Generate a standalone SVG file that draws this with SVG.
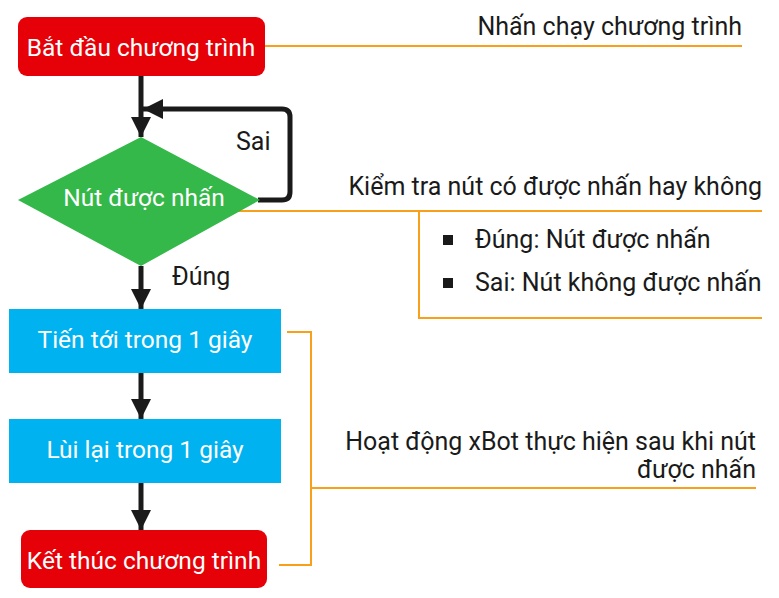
<svg xmlns="http://www.w3.org/2000/svg" width="779" height="598" viewBox="0 0 779 598">
<style>
text{font-family:Roboto,"Noto Sans",sans-serif;font-size:25px}
.w{fill:#fff;text-anchor:middle;font-size:24.5px}
.k{fill:#1a1a1a}
.r{fill:#1a1a1a;text-anchor:end}
.c{stroke:#1a1a1a;stroke-width:5;fill:none}
.o{stroke:#f9a01b;stroke-width:2;fill:none}
</style>
<defs>
<marker id="ah" viewBox="0 0 10 10" refX="10" refY="5" markerWidth="4" markerHeight="4" orient="auto" markerUnits="strokeWidth">
<path d="M0,0 L10,5 L0,10 Z" fill="#1a1a1a"/>
</marker>
</defs>
<g id="connectors">
<path class="c" d="M141,76 V137" marker-end="url(#ah)"/>
<path class="c" d="M258,200 H282 Q290,200 290,192 V117 Q290,109 282,109 H143" marker-end="url(#ah)"/>
<path class="c" d="M141,266 V309" marker-end="url(#ah)"/>
<path class="c" d="M141,373 V419" marker-end="url(#ah)"/>
<path class="c" d="M141,483 V530" marker-end="url(#ah)"/>
<text class="k" x="236" y="150">Sai</text>
<text class="k" x="172" y="285">Đúng</text>
</g>
<g id="annotations">
<path class="o" d="M265,46 H742"/>
<text class="r" x="742" y="35">Nhấn chạy chương trình</text>
<path class="o" d="M233,211 H762 M419,211 V318 H762"/>
<text class="r" x="762" y="195">Kiểm tra nút có được nhấn hay không</text>
<rect x="443" y="235" width="10" height="10" fill="#1a1a1a"/>
<text class="k" x="475" y="248">Đúng: Nút được nhấn</text>
<rect x="443" y="278" width="10" height="10" fill="#1a1a1a"/>
<text class="k" x="475" y="291">Sai: Nút không được nhấn</text>
<path class="o" d="M287,332 H311 V565 H279 M311,488 H756"/>
<text class="r" x="756" y="450">Hoạt động xBot thực hiện sau khi nút</text>
<text class="r" x="756" y="478">được nhấn</text>
</g>
<g id="start">
<rect x="18" y="17" width="247" height="59" rx="9" fill="#e60008"/>
<text class="w" x="141" y="56">Bắt đầu chương trình</text>
</g>
<g id="decision">
<path d="M141,137 L260,200 L141,266 L18,200 Z" fill="#33b849"/>
<text class="w" x="144" y="206">Nút được nhấn</text>
</g>
<g id="forward">
<rect x="9" y="309" width="272" height="64" fill="#00b2ef"/>
<text class="w" x="145" y="348">Tiến tới trong 1 giây</text>
</g>
<g id="backward">
<rect x="9" y="419" width="272" height="64" fill="#00b2ef"/>
<text class="w" x="145" y="458">Lùi lại trong 1 giây</text>
</g>
<g id="end">
<rect x="21" y="530" width="246" height="58" rx="9" fill="#e60008"/>
<text class="w" x="144" y="569">Kết thúc chương trình</text>
</g>
</svg>
